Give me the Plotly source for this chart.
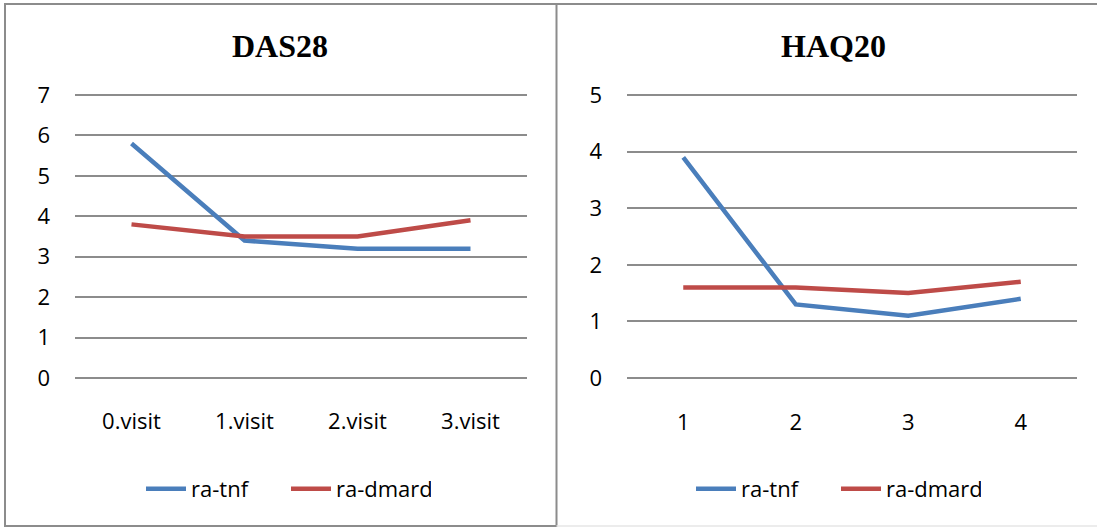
import plotly.graph_objects as go

W, H = 1097, 527

das_categories = ["0.visit", "1.visit", "2.visit", "3.visit"]
das_tnf = [5.8, 3.4, 3.2, 3.2]
das_dmard = [3.8, 3.5, 3.5, 3.9]

haq_categories = ["1", "2", "3", "4"]
haq_tnf = [3.9, 1.3, 1.1, 1.4]
haq_dmard = [1.6, 1.6, 1.5, 1.7]

das_yticks = [0, 1, 2, 3, 4, 5, 6, 7]
haq_yticks = [0, 1, 2, 3, 4, 5]

BLUE = "#4A7EBB"
RED = "#BE4B48"
GRID = "#8C8C8C"
FONT = "Open Sans"
TICKFONT = dict(family=FONT, size=22, color="#000000")


def px(v):
    return v / W


def py(v):
    return 1 - v / H


fig = go.Figure()

fig.add_trace(go.Scatter(x=das_categories, y=das_tnf, mode="lines", name="ra-tnf",
                         line=dict(color=BLUE, width=4.5), xaxis="x", yaxis="y", legend="legend"))
fig.add_trace(go.Scatter(x=das_categories, y=das_dmard, mode="lines", name="ra-dmard",
                         line=dict(color=RED, width=4.5), xaxis="x", yaxis="y", legend="legend"))
fig.add_trace(go.Scatter(x=haq_categories, y=haq_tnf, mode="lines", name="ra-tnf",
                         line=dict(color=BLUE, width=4.5), xaxis="x2", yaxis="y2", legend="legend2"))
fig.add_trace(go.Scatter(x=haq_categories, y=haq_dmard, mode="lines", name="ra-dmard",
                         line=dict(color=RED, width=4.5), xaxis="x2", yaxis="y2", legend="legend2"))

PAD = 0.03
xcommon = dict(type="category", showgrid=False, zeroline=False, showline=False, ticks="",
               tickfont=TICKFONT, ticklabelstandoff=27)
ycommon = dict(showgrid=True, gridcolor=GRID, gridwidth=1.5, zeroline=False, showline=False,
               ticks="", tickfont=TICKFONT, ticklabelstandoff=24)

das_unit = (378 - 95) / 7
haq_unit = (378 - 95) / 5

legend_common = dict(orientation="h", yanchor="middle", xanchor="center", font=TICKFONT,
                     bgcolor="rgba(0,0,0,0)", itemwidth=40, entrywidth=90,
                     entrywidthmode="pixels")

fig.update_layout(
    width=W, height=H, autosize=False,
    margin=dict(l=0, r=0, t=0, b=0, autoexpand=False),
    paper_bgcolor="white", plot_bgcolor="white",
    xaxis=dict(domain=[px(75), px(527)], anchor="y", range=[-0.5, 3.5], **xcommon),
    yaxis=dict(domain=[py(378 + PAD * das_unit), py(95 - PAD * das_unit)], anchor="x",
               range=[-PAD, 7 + PAD], tickvals=das_yticks, **ycommon),
    xaxis2=dict(domain=[px(627), px(1077)], anchor="y2", range=[-0.5, 3.5], **xcommon),
    yaxis2=dict(domain=[py(378 + PAD * haq_unit), py(95 - PAD * haq_unit)], anchor="x2",
                range=[-PAD, 5 + PAD], tickvals=haq_yticks, **ycommon),
    legend=dict(x=px(286), y=py(489), **legend_common),
    legend2=dict(x=px(836), y=py(489), **legend_common),
    showlegend=True,
)

fig.add_annotation(text="<b>DAS28</b>", x=px(280), y=py(46), xref="paper", yref="paper",
                   xanchor="center", yanchor="middle", showarrow=False,
                   font=dict(family="Liberation Serif", size=32, color="black"))
fig.add_annotation(text="<b>HAQ20</b>", x=px(833), y=py(46), xref="paper", yref="paper",
                   xanchor="center", yanchor="middle", showarrow=False,
                   font=dict(family="Liberation Serif", size=32, color="black"))

BORDER = "#8C8C8C"
border_line = dict(color=BORDER, width=2)
# left chart frame
fig.add_shape(type="rect", xref="paper", yref="paper", x0=px(5), x1=px(556.5),
              y0=py(526), y1=py(4), line=border_line)
# right chart frame: top edge runs off the right side of the picture
fig.add_shape(type="line", xref="paper", yref="paper", x0=px(556.5), x1=1.0,
              y0=py(4), y1=py(4), line=border_line)
fig.add_shape(type="line", xref="paper", yref="paper", x0=px(556.5), x1=1.0,
              y0=py(526), y1=py(526), line=dict(color="#E6E6E6", width=1.5))

# remove the default page margin so the figure fills the window exactly
post = "document.body.style.margin='0';document.body.style.overflow='hidden';"
fig.write_html("out.html", config={"responsive": False, "displayModeBar": False},
               post_script=post)
